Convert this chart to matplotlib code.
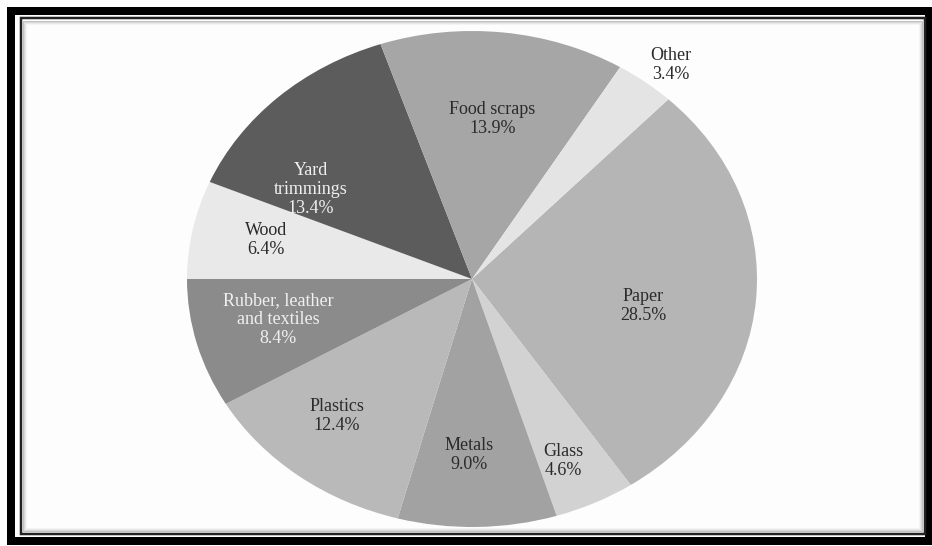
import numpy as np
import matplotlib.pyplot as plt
from matplotlib.patches import Rectangle

# данные
categories = ['Paper', 'Glass', 'Metals', 'Plastics', 'Rubber, leather\nand textiles',
              'Wood', 'Yard\ntrimmings', 'Food scraps', 'Other']
shares = [28.5, 4.6, 9.0, 12.4, 8.4, 6.4, 13.4, 13.9, 3.4]

# оформление
colors = ['#b5b5b5', '#d2d2d2', '#a2a2a2', '#b9b9b9', '#8b8b8b',
          '#e9e9e9', '#5c5c5c', '#a6a6a6', '#e4e4e4']
text_colors = ['#2b2b2b', '#2b2b2b', '#2b2b2b', '#2b2b2b', '#f0f0f0',
               '#2b2b2b', '#f0f0f0', '#2b2b2b', '#2b2b2b']
label_r = [0.61, 0.80, 0.71, 0.73, 0.70, 0.74, 0.67, 0.65, 1.11]
label_shift = [-5.5, -2.0, -2.0, -3.2, -1.5, -0.7, 14.6, 0.0, -1.5]

W, H = 932, 546
fig = plt.figure(figsize=(W / 100, H / 100), dpi=100)
fig.patch.set_facecolor('#fdfdfd')

# эллипс пирога: центр (472, 279), радиусы 285 x 248 пикселей
cx, cy, rx, ry = 472, 279, 285, 248
ax = fig.add_axes([(cx - rx) / W, (H - cy - ry) / H, 2 * rx / W, 2 * ry / H])

wedges, _ = ax.pie(shares, colors=colors, startangle=46.44, counterclock=False,
                   radius=1, wedgeprops=dict(linewidth=0))
ax.set_aspect('auto')
ax.set_xlim(-1, 1)
ax.set_ylim(-1, 1)
ax.axis('off')

for w, name, val, r, sh, tc in zip(wedges, categories, shares, label_r, label_shift, text_colors):
    ang = np.deg2rad((w.theta1 + w.theta2) / 2 + sh)
    ax.text(r * np.cos(ang), r * np.sin(ang), f'{name}\n{val:.1f}%',
            ha='center', va='center', fontsize=13, color=tc,
            family='Liberation Serif', linespacing=1.15, clip_on=False)

# рамка
def px_rect(x0, y0, x1, y1, **kw):
    fig.add_artist(Rectangle((x0 / W, 1 - y1 / H), (x1 - x0) / W, (y1 - y0) / H,
                             transform=fig.transFigure, fill=False, **kw))

px_rect(11, 11, 929, 541, edgecolor='black', linewidth=8 * 0.72)
px_rect(20.5, 18, 924.5, 533.5, edgecolor='#222222', linewidth=2.5 * 0.72)
for i, a in enumerate([0.35, 0.22, 0.12, 0.05]):
    d = 2.5 + i
    px_rect(20.5 + d, 18 + d, 924.5 - d, 533.5 - d, edgecolor='#555555',
            linewidth=0.72, alpha=a)

plt.savefig('out.png', dpi=100, facecolor=fig.get_facecolor())
